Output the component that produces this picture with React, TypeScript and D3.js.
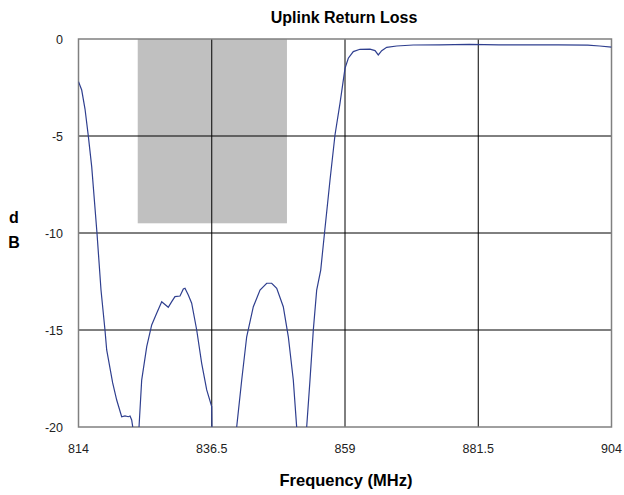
import React from "react";
import * as d3 from "d3";

const freqTicks = [814, 836.5, 859, 881.5, 904];
const dbTicks = [0, -5, -10, -15, -20];
const bandStart = 824;
const bandEnd = 849.2;
const bandTop = 0;
const bandBottom = -9.5;

const freq = [
  814.0, 814.54, 815.1, 815.65, 816.23, 817.12, 817.8, 818.47, 818.76, 819.77, 820.45, 821.29, 821.85, 822.41, 822.7, 822.98, 823.15,
  823.6, 824.22, 824.67, 825.52, 826.36, 827.2, 828.05, 829.16, 829.74, 830.29, 831.14, 831.7, 831.98, 832.54, 833.11, 833.96, 834.8, 835.65, 836.49, 836.55,
  837.0, 840.5, 840.71, 841.56, 842.4, 843.52, 844.65, 845.78, 846.62, 847.47, 848.58, 849.43, 850.27, 850.84,
  851.5, 852.3, 852.53, 853.09, 853.65, 854.22, 854.9, 855.54, 856.47, 857.31, 858.16, 859.0, 859.56, 860.4, 861.53, 863.22, 864.07, 864.62, 865.2, 866.04, 867.73, 870.53,
  875, 880, 885, 890, 895, 900, 902, 904,
];
const returnLoss = [
  -2.2, -2.63, -3.61, -4.98, -6.58, -10.0, -12.94, -15.0, -16.03, -17.73, -18.61, -19.47, -19.43, -19.47, -19.43, -19.64, -19.98,
  -22, -20.0, -17.58, -15.86, -14.74, -14.14, -13.54, -13.83, -13.54, -13.28, -13.25, -12.89, -12.85, -13.2, -13.62, -15.0, -16.72, -18.09, -18.95, -20.5,
  -22, -22, -20.0, -17.58, -15.35, -13.8, -12.94, -12.59, -12.59, -12.85, -13.8, -15.35, -17.58, -20.0,
  -22, -22, -20.0, -17.58, -15.0, -12.94, -11.91, -10.0, -7.27, -4.95, -3.31, -1.51, -0.99, -0.65, -0.53, -0.52, -0.6, -0.82, -0.6, -0.43, -0.36, -0.31,
  -0.3, -0.28, -0.3, -0.3, -0.3, -0.32, -0.36, -0.42,
];

const W = 624;
const H = 495;
const M = { left: 78.5, right: 611.5, top: 39, bottom: 427 };
const FONT = "'Liberation Sans', Arial, sans-serif";

export default function App() {
  const x = d3.scaleLinear().domain([814, 904]).range([M.left, M.right]);
  const y = d3.scaleLinear().domain([-20, 0]).range([M.bottom, M.top]);
  const pts = freq.map((f, i) => [f, returnLoss[i]] as [number, number]);
  const line = d3
    .line<[number, number]>()
    .x((d) => x(d[0]))
    .y((d) => y(d[1]));

  return (
    <svg
      width={W}
      height={H}
      style={{ position: "absolute", left: 0, top: 0, background: "#fff" }}
      fontFamily={FONT}
    >
      <defs>
        <clipPath id="plotclip">
          <rect x={M.left} y={M.top} width={M.right - M.left} height={M.bottom - M.top} />
        </clipPath>
      </defs>
      <rect
        x={x(bandStart)}
        y={y(bandTop)}
        width={x(bandEnd) - x(bandStart)}
        height={y(bandBottom) - y(bandTop)}
        fill="#c0c0c0"
      />
      {freqTicks.slice(1, -1).map((f) => (
        <line key={"gx" + f} x1={x(f)} x2={x(f)} y1={M.top} y2={M.bottom} stroke="#000" strokeWidth={1} />
      ))}
      {dbTicks.slice(1, -1).map((v) => (
        <line key={"gy" + v} x1={M.left} x2={M.right} y1={y(v)} y2={y(v)} stroke="#000" strokeWidth={1} />
      ))}
      <rect
        x={M.left}
        y={M.top}
        width={M.right - M.left}
        height={M.bottom - M.top}
        fill="none"
        stroke="#808080"
        strokeWidth={1.5}
      />
      <path d={line(pts) || ""} fill="none" stroke="#2f3f8f" strokeWidth={1.2} clipPath="url(#plotclip)" />
      {dbTicks.map((v) => (
        <text key={"ty" + v} x={63} y={y(v) + 4.5} textAnchor="end" fontSize={12.5} fill="#222">
          {v}
        </text>
      ))}
      {freqTicks.map((f) => (
        <text key={"tx" + f} x={x(f)} y={453} textAnchor="middle" fontSize={12.5} fill="#222">
          {f}
        </text>
      ))}
      <text x={344} y={23} textAnchor="middle" fontSize={16} fontWeight="bold" fill="#000">
        Uplink Return Loss
      </text>
      <text x={346} y={486} textAnchor="middle" fontSize={16.5} fontWeight="bold" fill="#000">
        Frequency (MHz)
      </text>
      <text x={14} y={223} textAnchor="middle" fontSize={16} fontWeight="bold" fill="#000">
        d
      </text>
      <text x={14} y={248} textAnchor="middle" fontSize={16} fontWeight="bold" fill="#000">
        B
      </text>
    </svg>
  );
}
